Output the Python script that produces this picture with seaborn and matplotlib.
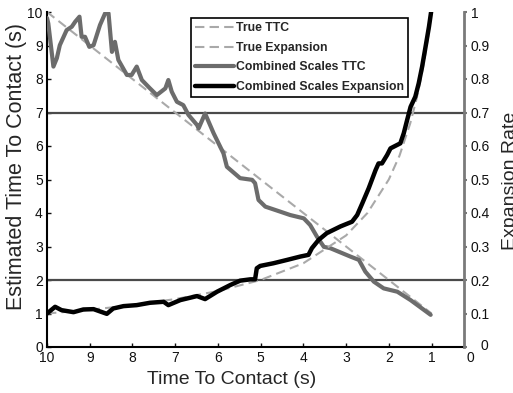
import matplotlib
matplotlib.use("Agg")
import matplotlib.pyplot as plt
import seaborn as sns
import pandas as pd
from matplotlib.lines import Line2D
from matplotlib.transforms import ScaledTranslation

# ---------------- data ----------------
true_ttc_t = [10, 1]
true_ttc_v = [10, 1]

true_exp_t = [10, 9, 8, 7, 6, 5, 4, 3, 2.5, 2, 1.75, 1.5, 1.35, 1.25, 1.15, 1.08, 1]
true_exp_v = [0.1, 0.111, 0.125, 0.143, 0.167, 0.2, 0.25, 0.333, 0.4, 0.5,
              0.571, 0.667, 0.741, 0.8, 0.87, 0.926, 1.0]

est_ttc_t = [10, 9.97, 9.85, 9.77, 9.70, 9.54, 9.42, 9.34, 9.24, 9.19,
             9.11, 9.01, 8.91, 8.76, 8.64, 8.56, 8.48, 8.41, 8.33, 8.13,
             8.02, 7.90, 7.78, 7.59, 7.43, 7.23, 7.16, 7.08, 6.96, 6.81,
             6.69, 6.49, 6.45, 6.30, 6.10, 5.87, 5.79, 5.48, 5.20, 5.13,
             5.05, 4.89, 4.54, 4.31, 3.99, 3.84, 3.68, 3.52, 3.37, 2.90,
             2.70, 2.55, 2.35, 2.12, 1.80, 1.49, 1.02]
est_ttc_v = [9.82, 9.66, 8.37, 8.62, 9.01, 9.46, 9.56, 9.71, 9.86, 9.26,
             9.26, 8.96, 9.01, 9.61, 9.96, 9.96, 8.81, 9.11, 8.57, 8.12,
             8.12, 8.37, 7.97, 7.72, 7.52, 7.72, 7.97, 7.62, 7.32, 7.22,
             6.93, 6.63, 6.53, 6.97, 6.38, 5.78, 5.38, 5.04, 4.99, 4.89,
             4.39, 4.19, 4.04, 3.94, 3.84, 3.64, 3.29, 2.99, 2.95, 2.70,
             2.60, 2.25, 1.95, 1.75, 1.65, 1.40, 0.96]

est_exp_t = [10, 9.81, 9.66, 9.38, 9.15, 8.91, 8.60, 8.45, 8.21, 7.90,
             7.59, 7.27, 7.16, 6.88, 6.49, 6.30, 6.02, 5.71, 5.48, 5.24,
             5.13, 5.09, 5.01, 4.70, 4.38, 4.07, 3.88, 3.80, 3.64, 3.45,
             3.13, 2.86, 2.74, 2.62, 2.47, 2.31, 2.24, 2.16, 2.04, 1.96,
             1.73, 1.65, 1.57, 1.49, 1.38, 1.30, 1.22, 1.14, 1.06, 1.01]
est_exp_v = [0.10, 0.12, 0.11, 0.104, 0.112, 0.113, 0.099, 0.115, 0.122, 0.125,
             0.132, 0.135, 0.125, 0.14, 0.152, 0.143, 0.165, 0.185, 0.198, 0.202,
             0.202, 0.235, 0.242, 0.25, 0.26, 0.27, 0.275, 0.295, 0.32, 0.34,
             0.36, 0.374, 0.394, 0.429, 0.474, 0.528, 0.548, 0.548, 0.573, 0.593,
             0.608, 0.638, 0.678, 0.717, 0.747, 0.787, 0.837, 0.896, 0.956, 1.0]

threshold_levels = [7, 2]
x_ticks = [10, 9, 8, 7, 6, 5, 4, 3, 2, 1]
left_ticks = list(range(0, 11))
right_ticks = [0, 0.1, 0.2, 0.3, 0.4, 0.5, 0.6, 0.7, 0.8, 0.9, 1.0]
right_labels = ["0", "0.1", "0.2", "0.3", "0.4", "0.5", "0.6", "0.7", "0.8", "0.9", "1"]
legend_labels = ["True TTC", "True Expansion", "Combined Scales TTC",
                 "Combined Scales Expansion"]

# ---------------- style ----------------
sns.set_theme(style="white")
plt.rcParams["font.family"] = ["Liberation Sans", "DejaVu Sans"]

LIGHT = "#a9a9a9"
GRAY = "#6c6c6c"
BLACK = "#000000"
DASH = (4.5, 2.5)

fig = plt.figure(figsize=(5.13, 3.93), dpi=100)
ax = fig.add_axes([47 / 513, 1 - 347 / 393, 417 / 513, 335 / 393])
ax2 = ax.twinx()

df_true_ttc = pd.DataFrame({"t": true_ttc_t, "v": true_ttc_v})
df_true_exp = pd.DataFrame({"t": true_exp_t, "v": true_exp_v})
df_est_ttc = pd.DataFrame({"t": est_ttc_t, "v": est_ttc_v})
df_est_exp = pd.DataFrame({"t": est_exp_t, "v": est_exp_v})

for lv in threshold_levels:
    ax.axhline(lv, color="#4a4a4a", lw=1.6, zorder=1)

sns.lineplot(data=df_true_ttc, x="t", y="v", ax=ax, color=LIGHT, lw=1.5,
             sort=False, estimator=None, zorder=2)
ax.lines[-1].set_dashes(DASH)
sns.lineplot(data=df_est_ttc, x="t", y="v", ax=ax, color=GRAY, lw=3,
             sort=False, estimator=None, zorder=3)

sns.lineplot(data=df_true_exp, x="t", y="v", ax=ax2, color=LIGHT, lw=1.5,
             sort=False, estimator=None, zorder=2)
ax2.lines[-1].set_dashes(DASH)
sns.lineplot(data=df_est_exp, x="t", y="v", ax=ax2, color=BLACK, lw=3.2,
             sort=False, estimator=None, zorder=3)

# axes limits / ticks
ax.set_xlim(10, 0.24)
ax.set_ylim(0, 10)
ax2.set_ylim(0, 1)
ax.set_xticks(x_ticks)
ax.set_xticklabels([str(v) for v in x_ticks])
ax.set_yticks(left_ticks)
ax2.set_yticks(right_ticks)
ax2.set_yticklabels(right_labels)

ax.set_xlabel("")
ax.set_ylabel("")
ax2.set_xlabel("")
ax2.set_ylabel("")

ax.tick_params(axis="both", direction="in", length=3, width=1, labelsize=10,
               colors="#111111", pad=3, bottom=True, left=True)
ax2.tick_params(axis="y", direction="out", length=2, width=1.5, labelsize=10,
                color="#777777", labelcolor="#111111", pad=3, right=True)

# the right-axis zero label sits a little right of the others in the reference
zero_lbl = ax2.yaxis.get_major_ticks()[0].label2
zero_lbl.set_transform(zero_lbl.get_transform() +
                       ScaledTranslation(0.10, 0.02, fig.dpi_scale_trans))

# spines
for sp in ["top", "right"]:
    ax.spines[sp].set_visible(False)
for sp in ["left", "bottom"]:
    ax.spines[sp].set_color("black")
    ax.spines[sp].set_linewidth(1.5)
for sp in ["top", "left", "bottom"]:
    ax2.spines[sp].set_visible(False)
ax2.spines["right"].set_color("#7a7a7a")
ax2.spines["right"].set_linewidth(2)

# the '0' label at the far end of the time axis
ax.annotate("0", xy=(0, 0), xycoords=("data", "axes fraction"),
            xytext=(-2.5, -3), textcoords="offset points", ha="center", va="top",
            fontsize=10, color="#111111", annotation_clip=False)

# axis labels
fig.text(232 / 513, 1 - 380 / 393, "Time To Contact (s)", ha="center",
         va="center", fontsize=14)
fig.text(17 / 513, 1 - 166 / 393, "Estimated Time To Contact (s)", ha="center",
         va="center", rotation=90, fontsize=15.5)
fig.text(502 / 513, 1 - 181 / 393, "Expansion Rate", ha="left", va="center",
         rotation=90, fontsize=14)

# legend
handles = [
    Line2D([], [], color=LIGHT, lw=1.5, dashes=DASH),
    Line2D([], [], color=LIGHT, lw=1.5, dashes=DASH),
    Line2D([], [], color=GRAY, lw=3),
    Line2D([], [], color=BLACK, lw=3.2),
]
leg = ax2.legend(handles, legend_labels, loc="upper right",
                 bbox_to_anchor=(0.866, 0.982), bbox_transform=ax.transAxes,
                 frameon=True, fancybox=False, framealpha=1, edgecolor="black",
                 prop={"family": ["DejaVu Sans Condensed", "Liberation Sans"],
                       "weight": "bold", "size": 8.8},
                 handlelength=3.2, handletextpad=0.15, labelspacing=0.62,
                 borderpad=0.35, borderaxespad=0)
leg.get_frame().set_linewidth(1.2)

fig.savefig("out.png", dpi=100)
